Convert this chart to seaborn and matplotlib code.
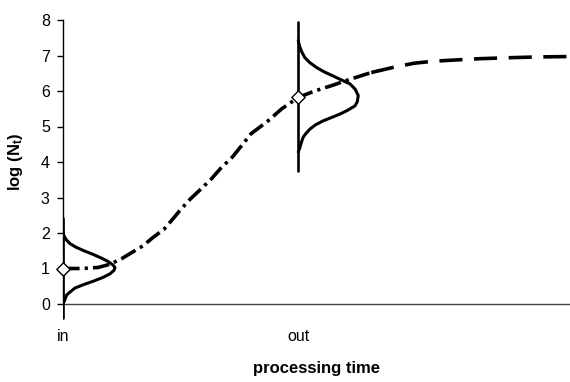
import matplotlib
matplotlib.use("Agg")
import matplotlib.pyplot as plt
import seaborn as sns
import pandas as pd

# ---- data ----
stage_labels = ["in", "out"]
stage_pos = [0.0, 1.0]
stage_mean = [1.00, 5.82]

# growth curve, first part (dash-dot)
growth_a_x = [0.00, 0.08, 0.15, 0.20, 0.25, 0.30, 0.34, 0.38, 0.43, 0.47, 0.50, 0.54,
              0.58, 0.63, 0.67, 0.72, 0.77, 0.80, 0.87, 0.93, 1.00, 1.07, 1.15, 1.22, 1.31]
growth_a_y = [1.00, 1.00, 1.03, 1.12, 1.28, 1.48, 1.64, 1.86, 2.11, 2.42, 2.66, 2.95,
              3.20, 3.52, 3.82, 4.14, 4.55, 4.80, 5.15, 5.50, 5.82, 6.00, 6.17, 6.33, 6.52]
# growth curve, second part (dashed)
growth_b_x = [1.31, 1.40, 1.49, 1.56, 1.63, 1.77, 1.91, 2.02, 2.155]
growth_b_y = [6.52, 6.66, 6.78, 6.83, 6.86, 6.91, 6.94, 6.96, 6.97]

# distribution profile at "in" (offset to the right, level)
dist_in_w = [0.000, 0.004, 0.015, 0.030, 0.055, 0.089, 0.127, 0.161, 0.191, 0.212, 0.221,
             0.217, 0.200, 0.170, 0.132, 0.089, 0.051, 0.032, 0.015, 0.008, 0.000]
dist_in_y = [2.05, 1.92, 1.80, 1.70, 1.60, 1.50, 1.40, 1.30, 1.20, 1.10, 1.03,
             0.95, 0.85, 0.75, 0.65, 0.55, 0.45, 0.35, 0.25, 0.12, 0.00]
# distribution profile at "out"
dist_out_w = [0.000, 0.006, 0.015, 0.028, 0.049, 0.078, 0.110, 0.149, 0.187, 0.220, 0.242, 0.255,
              0.251, 0.241, 0.208, 0.177, 0.140, 0.106, 0.074, 0.050, 0.032, 0.021, 0.013, 0.007, 0.000]
dist_out_y = [7.42, 7.25, 7.10, 6.94, 6.80, 6.66, 6.54, 6.42, 6.30, 6.20, 6.05, 5.87,
              5.70, 5.58, 5.45, 5.35, 5.25, 5.16, 5.05, 4.93, 4.80, 4.70, 4.55, 4.41, 4.28]

# vertical spread lines at each stage
vline_low = [-0.40, 3.75]
vline_high = [2.42, 7.94]

y_ticks = [0, 1, 2, 3, 4, 5, 6, 7, 8]

# ---- style ----
sns.set_theme(style="ticks")
plt.rcParams["font.family"] = ["Liberation Sans", "DejaVu Sans"]
plt.rcParams["mathtext.fontset"] = "custom"
plt.rcParams["mathtext.rm"] = "Liberation Sans"
plt.rcParams["mathtext.it"] = "Liberation Sans:bold"
plt.rcParams["mathtext.bf"] = "Liberation Sans:bold"

fig = plt.figure(figsize=(5.7, 3.82), dpi=100)
ax = fig.add_axes([63 / 570, 1 - 325.3 / 382, 507 / 570, 305.3 / 382])
ax.set_xlim(0, 2.155)
ax.set_ylim(-0.6, 8)

# x axis line at 0
ax.axhline(0, color="#404040", lw=1.0, zorder=1)

# vertical lines at stages
for xp, lo, hi in zip(stage_pos, vline_low, vline_high):
    sns.lineplot(x=[xp, xp], y=[lo, hi], color="black", lw=1.9, ax=ax,
                 estimator=None, sort=False, zorder=2)

# distribution profiles
sns.lineplot(x=[stage_pos[0] + w for w in dist_in_w], y=dist_in_y, color="black", lw=2.2,
             ax=ax, estimator=None, sort=False, zorder=3)
sns.lineplot(x=[stage_pos[1] + w for w in dist_out_w], y=dist_out_y, color="black", lw=2.2,
             ax=ax, estimator=None, sort=False, zorder=3)

# growth curve
sns.lineplot(x=growth_a_x, y=growth_a_y, color="black", lw=2.6, ax=ax, estimator=None,
             sort=False, zorder=4, linestyle=(0, (4.6, 1.4, 0.9, 1.4)))
sns.lineplot(x=growth_b_x, y=growth_b_y, color="black", lw=2.6, ax=ax, estimator=None,
             sort=False, zorder=4, linestyle=(0, (6.4, 3.2)))

# diamonds
sns.scatterplot(x=stage_pos, y=stage_mean, marker="D", s=46, facecolor="white",
                edgecolor="black", linewidth=1.0, ax=ax, zorder=6, clip_on=False)

# axes styling
for s in ["top", "right", "bottom"]:
    ax.spines[s].set_visible(False)
ax.spines["left"].set_bounds(0, 8)
ax.spines["left"].set_color("black")
ax.spines["left"].set_linewidth(1.0)

ax.set_yticks(y_ticks)
ax.set_yticklabels([str(t) for t in y_ticks])
ax.tick_params(axis="y", direction="out", length=4.5, width=1.0, pad=5,
               labelsize=11.5, colors="black")
ax.set_xticks(stage_pos)
ax.set_xticklabels(stage_labels)
ax.tick_params(axis="x", length=0, pad=3, labelsize=11.5, colors="black")

ax.set_xlabel("processing time", fontsize=12, fontweight="bold", color="black")
ax.xaxis.set_label_coords(0.5, -0.118)
ax.set_ylabel(r"log (N$_t$)", fontsize=12, fontweight="bold", color="black")
ax.yaxis.set_label_coords(-0.075, 0.5365)

ax.set_facecolor("white")
fig.patch.set_facecolor("white")
fig.savefig("out.png", dpi=100)
